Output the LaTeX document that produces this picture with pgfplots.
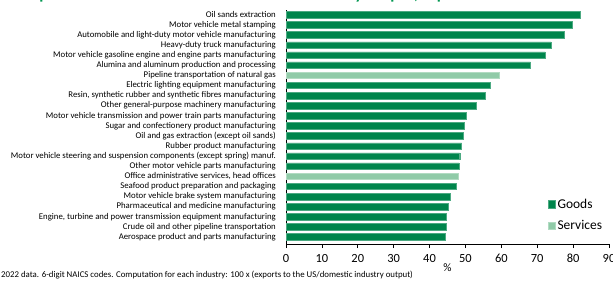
\documentclass[border=0pt]{standalone}
\usepackage{fontspec}
\setmainfont{Carlito}
\usepackage{pgfplots}
\pgfplotsset{compat=1.18}
\definecolor{goods}{RGB}{0,133,76}
\definecolor{services}{RGB}{144,203,168}
\definecolor{titlegreen}{RGB}{0,150,80}
\begin{document}
\begin{tikzpicture}[x=1bp,y=1bp]
\useasboundingbox (0,0) rectangle (613,281);
\node[anchor=base east, font=\bfseries\fontsize{16.8}{19}\selectfont, text=titlegreen, inner sep=0pt] at (591,281.2) {Canadian exports to the US as a share of domestic industry output, top 25 subsectors as a \%};
\node[anchor=west, inner sep=0pt, font=\fontsize{8.85}{10}\selectfont] at (1,5.5) {2022 data. 6-digit NAICS codes. Computation for each industry: 100 x (exports to the US/domestic industry output)};
\begin{axis}[
  at={(286bp,37bp)}, anchor=south west,
  scale only axis, width=323bp, height=234bp,
  xmin=0, xmax=90, ymin=0.535, ymax=23.70, y dir=reverse,
  axis x line*=bottom, axis y line*=left,
  axis line style={-, black, line width=0.8bp},
  tick align=outside, major tick length=4bp,
  xtick={0,10,...,90},
  xtick style={black, line width=0.6bp},
  ytick={1,...,23},
  ytick style={draw=none},
  yticklabels={Oil sands extraction,
    Motor vehicle metal stamping,
    Automobile and light-duty motor vehicle manufacturing,
    Heavy-duty truck manufacturing,
    Motor vehicle gasoline engine and engine parts manufacturing,
    Alumina and aluminum production and processing,
    Pipeline transportation of natural gas,
    Electric lighting equipment manufacturing,
    {Resin, synthetic rubber and synthetic fibres manufacturing},
    Other general-purpose machinery manufacturing,
    Motor vehicle transmission and power train parts manufacturing,
    Sugar and confectionery product manufacturing,
    Oil and gas extraction (except oil sands),
    Rubber product manufacturing,
    Motor vehicle steering and suspension components (except spring) manuf.,
    Other motor vehicle parts manufacturing,
    {Office administrative services, head offices},
    Seafood product preparation and packaging,
    Motor vehicle brake system manufacturing,
    Pharmaceutical and medicine manufacturing,
    {Engine, turbine and power transmission equipment manufacturing},
    Crude oil and other pipeline transportation,
    Aerospace product and parts manufacturing},
  yticklabel style={font=\fontsize{8.8}{9}\selectfont, anchor=east, inner sep=0pt, xshift=-6bp},
  xticklabel style={font=\fontsize{12.5}{14}\selectfont, anchor=base, inner sep=0pt, yshift=-14.7bp},
  /pgf/number format/assume math mode=true,
  xlabel={\%},
  xlabel style={font=\fontsize{11.5}{13}\selectfont, at={(axis description cs:0.5,0)}, anchor=center, inner sep=0pt, yshift=-24bp},
  legend style={at={(axis cs:72.85,19.0)}, anchor=north west, draw=none, fill=none,
    font=\fontsize{13.5}{15}\selectfont, row sep=7bp, inner sep=0pt},
  legend cell align=left,
  legend image code/.code={\fill[#1] (0bp,-3.75bp) rectangle (7.5bp,3.75bp);},
]
\addplot[xbar, bar width=6.5bp, bar shift=0pt, fill=goods, draw=goods!70!white, line width=0.4bp]
coordinates {(82.1,1) (79.8,2) (77.5,3) (73.8,4) (72.2,5) (68.1,6) (56.8,8) (55.5,9) (52.9,10) (50.2,11) (49.6,12) (49.5,13) (48.9,14) (48.4,15) (48.2,16) (47.4,18) (45.8,19) (45.2,20) (44.7,21) (44.6,22) (44.3,23)};
\addlegendentry{Goods}
\addplot[xbar, bar width=6.5bp, bar shift=0pt, fill=services, draw=services!70!white, line width=0.4bp]
coordinates {(59.4,7) (48.1,17)};
\addlegendentry{Services}
\end{axis}
\end{tikzpicture}
\end{document}
